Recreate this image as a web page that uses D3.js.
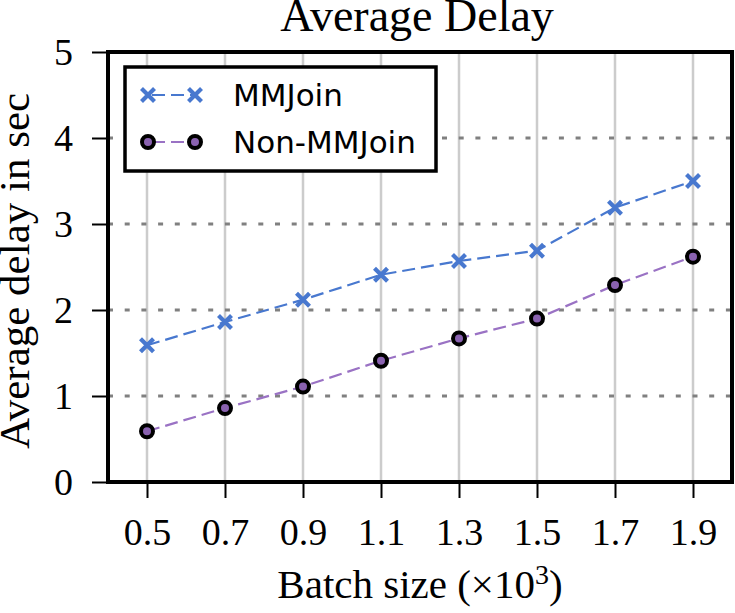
<!DOCTYPE html>
<html>
<head>
<meta charset="utf-8">
<script src="https://cdn.jsdelivr.net/npm/d3@7"></script>
<style>
  body { margin: 0; background: #fff; }
  svg { display: block; }
  .serif { font-family: "Liberation Serif", "DejaVu Serif", serif; fill: #000; }
</style>
</head>
<body>
<div id="chart"></div>
<script>
// data
var batchSizes = ["0.5", "0.7", "0.9", "1.1", "1.3", "1.5", "1.7", "1.9"];
var mmjoin = [1.59, 1.86, 2.12, 2.41, 2.57, 2.69, 3.19, 3.50];
var nonMmjoin = [0.59, 0.86, 1.11, 1.41, 1.67, 1.90, 2.29, 2.62];
var yTicks = [0, 1, 2, 3, 4, 5];
var seriesNames = ["MMJoin", "Non-MMJoin"];

var width = 735, height = 613;
var margin = { top: 52, right: 3, bottom: 131, left: 108 };
var innerWidth = width - margin.left - margin.right,
    innerHeight = height - margin.top - margin.bottom;

var blue = "#4878cf", purpleLine = "#9a72c4", purpleFill = "#8a62b0";

var svg = d3.select("#chart").append("svg")
    .attr("width", width)
    .attr("height", height);

var g = svg.append("g")
    .attr("transform", "translate(" + margin.left + "," + margin.top + ")");

var xScale = d3.scalePoint().domain(batchSizes).range([0, innerWidth]).padding(0.5);
var yScale = d3.scaleLinear().domain([0, 5]).range([innerHeight, 0]);

// grid
g.append("g").selectAll("line.vgrid")
    .data(batchSizes)
    .enter().append("line")
    .attr("class", "vgrid")
    .attr("x1", d => xScale(d)).attr("x2", d => xScale(d))
    .attr("y1", 0).attr("y2", innerHeight)
    .attr("stroke", "#cccccc")
    .attr("stroke-width", 2.5);

g.append("g").selectAll("line.hgrid")
    .data(yTicks.slice(1, -1))
    .enter().append("line")
    .attr("class", "hgrid")
    .attr("x1", 0).attr("x2", innerWidth)
    .attr("y1", d => yScale(d)).attr("y2", d => yScale(d))
    .attr("stroke", "#808080")
    .attr("stroke-width", 3)
    .attr("stroke-dasharray", "5,11.7");

// axes
var xAxis = g.append("g")
    .attr("transform", "translate(0," + innerHeight + ")")
    .call(d3.axisBottom(xScale).tickSize(16).tickPadding(11));
var yAxis = g.append("g")
    .call(d3.axisLeft(yScale).tickValues(yTicks).tickFormat(d3.format("d")).tickSize(16).tickPadding(19));

[xAxis, yAxis].forEach(function(a) {
    a.select(".domain").remove();
    a.selectAll(".tick line").attr("stroke", "#000").attr("stroke-width", 2);
    a.selectAll(".tick text")
        .attr("class", "serif")
        .style("font-size", "38px")
        .attr("fill", "#000");
});
xAxis.selectAll(".tick text").attr("dy", "0.95em");
yAxis.selectAll(".tick text").attr("dy", "0.34em");

// series
var line = d3.line()
    .x((d, i) => xScale(batchSizes[i]))
    .y(d => yScale(d));

g.append("path")
    .datum(mmjoin)
    .attr("d", line)
    .attr("fill", "none")
    .attr("stroke", blue)
    .attr("stroke-width", 2.2)
    .attr("stroke-dasharray", "13,6");

g.append("path")
    .datum(nonMmjoin)
    .attr("d", line)
    .attr("fill", "none")
    .attr("stroke", purpleLine)
    .attr("stroke-width", 2.2)
    .attr("stroke-dasharray", "13,6");

function crossMark(sel, s) {
    sel.append("path")
        .attr("d", "M" + (-s) + "," + (-s) + "L" + s + "," + s + "M" + (-s) + "," + s + "L" + s + "," + (-s))
        .attr("stroke", blue)
        .attr("stroke-width", 4.2)
        .attr("fill", "none");
}

g.selectAll(".xmark")
    .data(mmjoin)
    .enter().append("g")
    .attr("class", "xmark")
    .attr("transform", (d, i) => "translate(" + xScale(batchSizes[i]) + "," + yScale(d) + ")")
    .call(crossMark, 6.5);

g.selectAll(".omark")
    .data(nonMmjoin)
    .enter().append("circle")
    .attr("class", "omark")
    .attr("cx", (d, i) => xScale(batchSizes[i]))
    .attr("cy", d => yScale(d))
    .attr("r", 6)
    .attr("fill", purpleFill)
    .attr("stroke", "#000")
    .attr("stroke-width", 4);

// frame
g.append("rect")
    .attr("x", 0).attr("y", 0)
    .attr("width", innerWidth).attr("height", innerHeight)
    .attr("fill", "none")
    .attr("stroke", "#000")
    .attr("stroke-width", 4);

// legend
var legend = svg.append("g").attr("transform", "translate(125,67)");
legend.append("rect")
    .attr("width", 311).attr("height", 104)
    .attr("fill", "#fff")
    .attr("stroke", "#000")
    .attr("stroke-width", 3.5);

var rows = legend.selectAll(".row")
    .data(seriesNames)
    .enter().append("g")
    .attr("class", "row")
    .attr("transform", (d, i) => "translate(0," + (28 + i * 47) + ")");

rows.append("line")
    .attr("x1", 23).attr("x2", 70)
    .attr("stroke", (d, i) => i === 0 ? blue : purpleLine)
    .attr("stroke-width", 2.2)
    .attr("stroke-dasharray", "13,6")
    .attr("stroke-dashoffset", -4);

rows.filter((d, i) => i === 0).each(function() {
    d3.select(this).append("g").attr("transform", "translate(23,0)").call(crossMark, 6.5);
    d3.select(this).append("g").attr("transform", "translate(70,0)").call(crossMark, 6.5);
});
rows.filter((d, i) => i === 1).selectAll("circle")
    .data([23, 70])
    .enter().append("circle")
    .attr("cx", d => d).attr("cy", 0).attr("r", 6)
    .attr("fill", purpleFill)
    .attr("stroke", "#000")
    .attr("stroke-width", 4);

rows.append("text")
    .attr("x", 108)
    .attr("y", 11)
    .style("font-family", "'DejaVu Sans', sans-serif")
    .style("font-size", "31px")
    .text(d => d);

// titles
svg.append("text")
    .attr("class", "serif")
    .attr("x", margin.left + innerWidth / 2 - 3)
    .attr("y", 31)
    .attr("text-anchor", "middle")
    .style("font-size", "46px")
    .text("Average Delay");

var xl = svg.append("text")
    .attr("class", "serif")
    .attr("x", margin.left + innerWidth / 2)
    .attr("y", 598)
    .attr("text-anchor", "middle")
    .style("font-size", "41px");
xl.append("tspan").text("Batch size (\u00d710");
xl.append("tspan").attr("dy", -14).style("font-size", "28px").text("3");
xl.append("tspan").attr("dy", 14).text(")");

svg.append("text")
    .attr("class", "serif")
    .attr("transform", "translate(29," + (margin.top + innerHeight / 2 + 4) + ") rotate(-90)")
    .attr("text-anchor", "middle")
    .style("font-size", "43px")
    .text("Average delay in sec");
</script>
</body>
</html>
